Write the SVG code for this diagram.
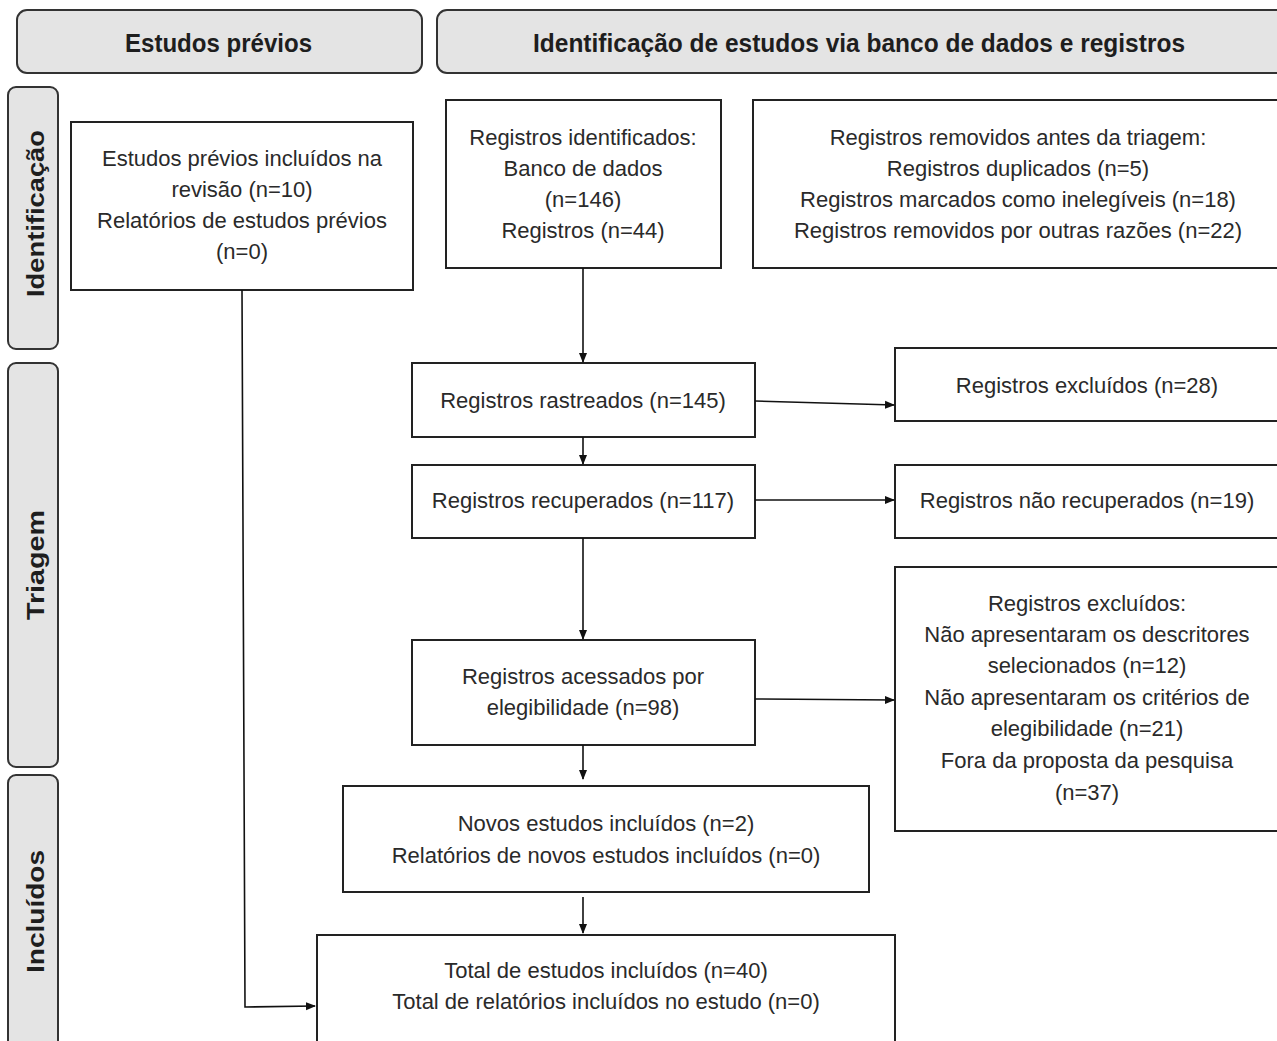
<svg xmlns="http://www.w3.org/2000/svg" width="1277" height="1041" viewBox="0 0 1277 1041">
<style>
.hdr{fill:#e4e4e4;stroke:#333;stroke-width:2}
.box{fill:#fff;stroke:#222;stroke-width:2}
.ht{font-family:"Liberation Sans",Arial,sans-serif;font-weight:bold;font-size:25px;fill:#1e1e1e;text-anchor:middle}
.lt{font-family:"Liberation Sans",Arial,sans-serif;font-weight:bold;font-size:24px;fill:#1e1e1e;text-anchor:middle}
.t{font-family:"Liberation Sans",Arial,sans-serif;font-size:22px;fill:#2a2a2a;text-anchor:middle}
.c{fill:none;stroke:#111;stroke-width:1.6}
</style>
<defs>
<marker id="ah" markerWidth="10" markerHeight="10" refX="9" refY="5" orient="auto" markerUnits="userSpaceOnUse">
<path d="M0,1 L10,5 L0,9 Z" fill="#111"/>
</marker>
</defs>
<rect width="1277" height="1041" fill="#fff"/>

<g id="hdr-previos">
<rect class="hdr" x="17" y="10" width="405" height="63" rx="10"/>
<text class="ht" x="218.5" y="52" textLength="187" lengthAdjust="spacingAndGlyphs">Estudos prévios</text>
</g>
<g id="hdr-identificacao">
<rect class="hdr" x="437" y="10" width="860" height="63" rx="10"/>
<text class="ht" x="859" y="52" textLength="652" lengthAdjust="spacingAndGlyphs">Identificação de estudos via banco de dados e registros</text>
</g>

<g id="lane-identificacao">
<rect class="hdr" x="8" y="87" width="50" height="262" rx="8"/>
<text class="lt" transform="translate(43.5,213.5) rotate(-90)" x="0" y="0" textLength="167" lengthAdjust="spacingAndGlyphs">Identificação</text>
</g>
<g id="lane-triagem">
<rect class="hdr" x="8" y="363" width="50" height="404" rx="8"/>
<text class="lt" transform="translate(43.5,565) rotate(-90)" x="0" y="0" textLength="110" lengthAdjust="spacingAndGlyphs">Triagem</text>
</g>
<g id="lane-incluidos">
<rect class="hdr" x="8" y="775" width="50" height="280" rx="8"/>
<text class="lt" transform="translate(43.5,911.5) rotate(-90)" x="0" y="0" textLength="123" lengthAdjust="spacingAndGlyphs">Incluídos</text>
</g>

<g id="n-previos">
<rect class="box" x="71" y="122" width="342" height="168"/>
<text class="t" x="242" y="166">Estudos prévios incluídos na</text>
<text class="t" x="242" y="197">revisão (n=10)</text>
<text class="t" x="242" y="228">Relatórios de estudos prévios</text>
<text class="t" x="242" y="259">(n=0)</text>
</g>
<g id="n-identificados">
<rect class="box" x="446" y="100" width="275" height="168"/>
<text class="t" x="583" y="145">Registros identificados:</text>
<text class="t" x="583" y="176">Banco de dados</text>
<text class="t" x="583" y="207">(n=146)</text>
<text class="t" x="583" y="238">Registros (n=44)</text>
</g>
<g id="n-removidos">
<rect class="box" x="753" y="100" width="540" height="168"/>
<text class="t" x="1018" y="145">Registros removidos antes da triagem:</text>
<text class="t" x="1018" y="176">Registros duplicados (n=5)</text>
<text class="t" x="1018" y="207">Registros marcados como inelegíveis (n=18)</text>
<text class="t" x="1018" y="238">Registros removidos por outras razões (n=22)</text>
</g>
<g id="n-rastreados">
<rect class="box" x="412" y="363" width="343" height="74"/>
<text class="t" x="583" y="408">Registros rastreados (n=145)</text>
</g>
<g id="n-excluidos28">
<rect class="box" x="895" y="348" width="398" height="73"/>
<text class="t" x="1087" y="393">Registros excluídos (n=28)</text>
</g>
<g id="n-recuperados">
<rect class="box" x="412" y="465" width="343" height="73"/>
<text class="t" x="583" y="508">Registros recuperados (n=117)</text>
</g>
<g id="n-naorecuperados">
<rect class="box" x="895" y="465" width="398" height="73"/>
<text class="t" x="1087" y="508">Registros não recuperados (n=19)</text>
</g>
<g id="n-acessados">
<rect class="box" x="412" y="640" width="343" height="105"/>
<text class="t" x="583" y="684">Registros acessados por</text>
<text class="t" x="583" y="715">elegibilidade (n=98)</text>
</g>
<g id="n-excluidos">
<rect class="box" x="895" y="567" width="398" height="264"/>
<text class="t" x="1087" y="611">Registros excluídos:</text>
<text class="t" x="1087" y="642">Não apresentaram os descritores</text>
<text class="t" x="1087" y="673">selecionados (n=12)</text>
<text class="t" x="1087" y="705">Não apresentaram os critérios de</text>
<text class="t" x="1087" y="736">elegibilidade (n=21)</text>
<text class="t" x="1087" y="768">Fora da proposta da pesquisa</text>
<text class="t" x="1087" y="800">(n=37)</text>
</g>
<g id="n-novos">
<rect class="box" x="343" y="786" width="526" height="106"/>
<text class="t" x="606" y="831">Novos estudos incluídos (n=2)</text>
<text class="t" x="606" y="863">Relatórios de novos estudos incluídos (n=0)</text>
</g>
<g id="n-total">
<rect class="box" x="317" y="935" width="578" height="120"/>
<text class="t" x="606" y="978">Total de estudos incluídos (n=40)</text>
<text class="t" x="606" y="1009">Total de relatórios incluídos no estudo (n=0)</text>
</g>

<g id="connectors">
<path class="c" d="M583,268 V362" marker-end="url(#ah)"/>
<path class="c" d="M583,437 V464" marker-end="url(#ah)"/>
<path class="c" d="M583,538 V639" marker-end="url(#ah)"/>
<path class="c" d="M583,745 V779" marker-end="url(#ah)"/>
<path class="c" d="M583,897 V933" marker-end="url(#ah)"/>
<path class="c" d="M755,401 L894,405" marker-end="url(#ah)"/>
<path class="c" d="M755,500 L894,500" marker-end="url(#ah)"/>
<path class="c" d="M755,699 L894,700" marker-end="url(#ah)"/>
<path class="c" d="M242,290 L245,1007 L315,1006" marker-end="url(#ah)"/>
</g>
</svg>
